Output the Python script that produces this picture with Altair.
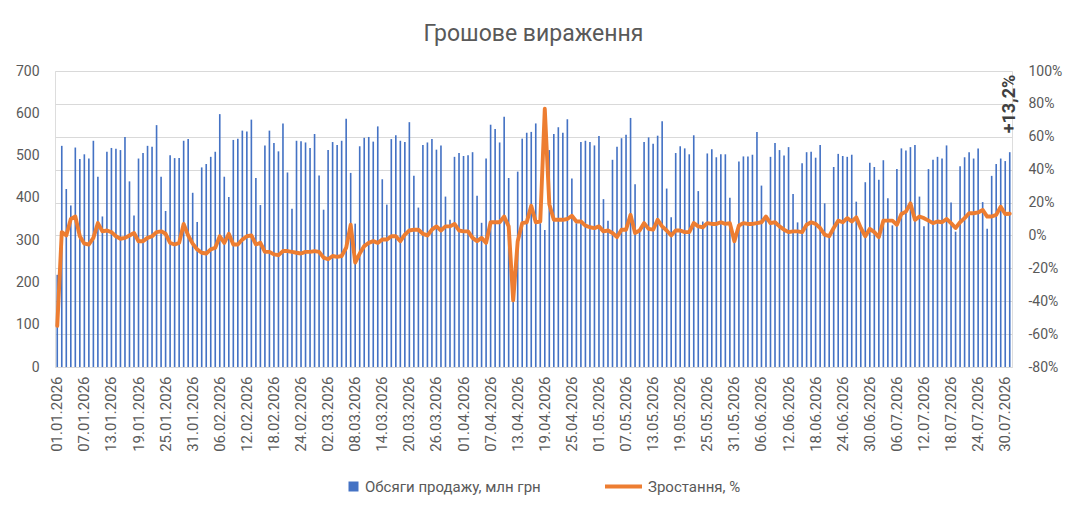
import altair as alt
import pandas as pd

# ---- data ----
sales = [218, 523, 421, 382, 519, 492, 503, 493, 535, 450,
         356, 509, 518, 516, 513, 544, 439, 358, 493, 506,
         523, 521, 572, 450, 369, 501, 494, 494, 535, 539,
         412, 343, 472, 480, 497, 509, 598, 450, 402, 537,
         540, 559, 557, 585, 447, 383, 524, 559, 530, 510,
         576, 460, 374, 535, 534, 531, 518, 551, 453, 372,
         513, 532, 525, 535, 587, 459, 339, 522, 542, 544,
         533, 569, 444, 384, 539, 548, 535, 532, 579, 452,
         377, 525, 531, 539, 514, 524, 403, 348, 497, 506,
         499, 501, 508, 405, 341, 493, 573, 563, 531, 592,
         447, 190, 462, 540, 554, 556, 576, 340, 324, 513,
         551, 567, 554, 586, 446, 340, 532, 535, 532, 524,
         546, 397, 346, 490, 521, 541, 549, 589, 432, 325,
         532, 543, 528, 547, 581, 422, 354, 506, 522, 517,
         503, 548, 416, 344, 505, 515, 496, 503, 503, 400,
         300, 486, 498, 498, 502, 556, 429, 355, 497, 530,
         513, 500, 520, 409, 342, 482, 508, 509, 495, 525,
         387, 310, 473, 504, 499, 497, 502, 391, 328, 437,
         483, 473, 443, 489, 399, 335, 468, 517, 512, 520,
         525, 403, 333, 468, 490, 497, 493, 524, 389, 320,
         475, 496, 508, 493, 517, 390, 327, 452, 480, 493,
         487, 508]

growth_pct = [-55, 2, 0, 10, 11.5, -0.5, -5, -5.5, -1.5, 7.5,
              2.5, 3, 2, -0.5, -2, -1.5, 0, 1.5, -3.5, -3.5,
              -1.5, -0.5, 2, 2.5, 1, -4.5, -5.5, -4.5, 7, 0,
              -5, -8.5, -10.5, -11, -8.5, -7.5, -0.5, -4.5, 1, -5.5,
              -5.5, -2.5, -0.5, 0, -5.5, -4.5, -10, -10, -11.5, -12,
              -9.5, -9.5, -10, -10.5, -11, -10, -10, -9.5, -10, -13.5,
              -14.5, -12.5, -13, -12.5, -7.5, 6.5, -16.5, -11, -6.5, -4.5,
              -3.5, -4.5, -2.5, -2.5, -0.5, -0.5, -3.5, 0.5, 3, 3.5,
              3.5, 1, 0, 3.5, 5.5, 3, 5.5, 5.5, 7, 3,
              2.5, 2.5, -1.5, -3.5, -1.5, -4.5, 8, 8, 8, 11.5,
              5.5, -39.5, -3.5, 7.5, 8, 18, 8, 8.5, 77, 19,
              9.5, 9.5, 9.5, 10, 12, 8.5, 8.5, 6, 5, 4.5,
              5.5, 2.5, 3, 1.5, -1, 3.5, 3.5, 12.5, 1.5, 3,
              7.5, 4, 3.5, 9.5, 5.5, 3, 0, 3, 3, 2,
              2, 7.5, 5.5, 5, 7.5, 7, 7, 8, 7, 7.5,
              -3.5, 6, 7.5, 7, 7, 7.5, 8, 11.5, 7.5, 8,
              5.5, 3.5, 2, 2.5, 2.5, 2, 6.5, 8, 7, 4.5,
              0.5, -0.5, 4.5, 9, 8, 10.5, 8.5, 11, 4.5, -0.5,
              4, 2, -1, 9, 9, 9, 6.5, 13, 14.5, 19.5,
              9.5, 11.5, 10.5, 9, 7.5, 8.5, 8, 10, 7.5, 4.5,
              8, 10.5, 13.5, 13.5, 14, 15.5, 11.5, 11.5, 12.5, 17.5,
              13, 13.2]

dates = pd.date_range("2026-01-01", periods=len(sales), freq="D").strftime("%d.%m.%Y").tolist()
tick_dates = dates[::6]
left_ticks = [0, 100, 200, 300, 400, 500, 600, 700]
right_ticks = [-0.8, -0.6, -0.4, -0.2, 0.0, 0.2, 0.4, 0.6, 0.8, 1.0]

title_text = "Грошове вираження"
bar_name = "Обсяги продажу, млн грн"
line_name = "Зростання, %"
last_label = "+13,2%"

df = pd.DataFrame({
    "date": dates,
    "sales": sales,
    "growth": [g / 100 for g in growth_pct],
    "s1": bar_name,
    "s2": line_name,
})
lab_df = pd.DataFrame({"date": [dates[-1]], "t": [last_label]})

FONT = "Roboto"
GRAY = "#595959"
GRID = "#D9D9D9"
BLUE = "#4472C4"
ORANGE = "#ED7D31"

x_enc = alt.X(
    "date:O", sort=dates,
    scale=alt.Scale(paddingInner=0.64, paddingOuter=0.32),
    axis=alt.Axis(values=tick_dates, labelAngle=270, title=None, ticks=False,
                  domainColor=GRID, labelPadding=9, labelFontSize=15,
                  labelColor=GRAY, labelFont=FONT, grid=False),
)

bars = alt.Chart(df).mark_bar().encode(
    x=x_enc,
    y=alt.Y("sales:Q",
            scale=alt.Scale(domain=[0, 700], nice=False),
            axis=alt.Axis(values=left_ticks, orient="left", grid=False, domain=False,
                          ticks=False, labelPadding=16, title=None, labelFontSize=14,
                          labelColor=GRAY, labelFont=FONT)),
    fill=alt.Fill("s1:N", scale=alt.Scale(range=[BLUE]),
                  legend=alt.Legend(title=None, orient="none", legendX=291, legendY=408,
                                    symbolType="square", symbolSize=100, symbolStrokeWidth=0,
                                    labelFontSize=15, labelColor=GRAY, labelFont=FONT,
                                    labelLimit=400, padding=0)),
)

line = alt.Chart(df).mark_line(strokeWidth=3.9, strokeCap="round", strokeJoin="round").encode(
    x=x_enc,
    y=alt.Y("growth:Q",
            scale=alt.Scale(domain=[-0.8, 1.0], nice=False, zero=False),
            axis=alt.Axis(values=right_ticks, orient="right", grid=True, gridColor=GRID,
                          domain=False, ticks=False, labelPadding=16, title=None,
                          labelFontSize=14, labelColor=GRAY, labelFont=FONT,
                          labelExpr="(datum.value < -0.001 ? '-' : '') + format(abs(datum.value) * 100, '.0f') + '%'")),
    stroke=alt.Stroke("s2:N", scale=alt.Scale(range=[ORANGE]),
                      legend=alt.Legend(title=None, orient="none", legendX=548, legendY=395,
                                        symbolType="stroke", symbolSize=1369,
                                        symbolStrokeWidth=3.9, labelFontSize=15,
                                        labelColor=GRAY, labelFont=FONT, labelLimit=400,
                                        padding=0)),
)

label = alt.Chart(lab_df).mark_text(angle=270, fontSize=18, fontWeight="bold", color="#404040",
                                    font=FONT, baseline="middle", align="center").encode(
    x=x_enc,
    y=alt.value(33),
    text="t:N",
)

chart = alt.layer(bars, line, label).resolve_scale(y="independent").properties(
    width=957,
    height=296,
    title=alt.TitleParams(text=title_text, fontSize=23, font=FONT, color=GRAY,
                          fontWeight="normal", anchor="middle", offset=18),
    padding={"left": 47, "top": 63, "right": 60, "bottom": 140},
    autosize=alt.AutoSizeParams(type="none"),
).configure_view(stroke=None).configure(background="white")

chart.save("out.html", embed_options={"renderer": "svg", "actions": False})
